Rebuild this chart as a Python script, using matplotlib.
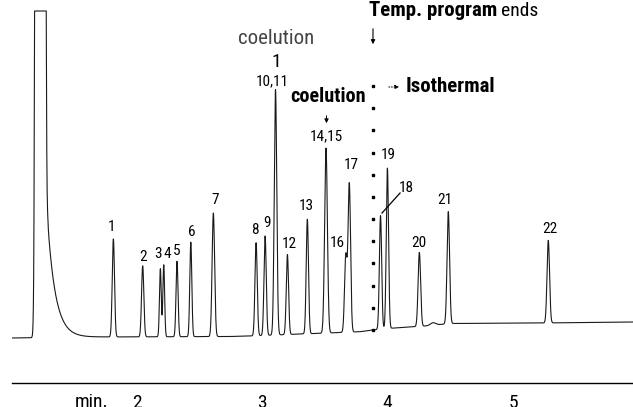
import numpy as np
import matplotlib
matplotlib.use("Agg")
import matplotlib.pyplot as plt
from matplotlib import font_manager

# look for a narrow / condensed sans face, the original is set in a condensed grotesque
fonts = font_manager.fontManager.ttflist
names = {f.name for f in fonts}
FAMILY, STRETCH, NARROW = "Liberation Sans", "normal", False
for cand in ["Liberation Sans Narrow", "Roboto Condensed", "Open Sans Condensed", "Noto Sans Condensed"]:
    if cand in names:
        FAMILY, NARROW = cand, True
        break
if not NARROW:
    cond = [f.name for f in fonts if f.stretch in ("condensed", "semi-condensed") and "Sans" in f.name]
    if cond:
        FAMILY, STRETCH, NARROW = sorted(cond)[0], "condensed", True
plt.rcParams["font.family"] = [FAMILY, "DejaVu Sans"]
plt.rcParams["font.stretch"] = STRETCH

# Peak table (time in min, height above baseline, width sigma in min)
peak_names = ["1", "2", "3", "4", "5", "6", "7", "8", "9", "10,11", "12", "13",
              "14,15", "16", "17", "18", "19", "20", "21", "22"]
peak_times = [1.811, 2.045, 2.186, 2.213, 2.319, 2.429, 2.609, 2.950, 3.022, 3.105,
              3.200, 3.359, 3.508, 3.666, 3.694, 3.943, 3.998, 4.253, 4.484, 5.282]
peak_heights = [98, 71, 68, 72, 75.5, 94.5, 123.5, 93, 99.5, 245.5,
                80, 114.5, 185, 76, 148, 113.5, 160.5, 74, 112, 82.5]
peak_widths = [0.009, 0.009, 0.007, 0.007, 0.008, 0.008, 0.010, 0.009, 0.009, 0.010,
               0.009, 0.009, 0.011, 0.010, 0.010, 0.009, 0.009, 0.010, 0.010, 0.010]

# label positions (time, signal)
label_times = [1.800, 2.048, 2.168, 2.239, 2.319, 2.439, 2.622, 2.942, 3.037, 3.077,
               3.213, 3.353, 3.512, 3.596, 3.708, 4.147, 4.003, 4.251, 4.458, 5.296]
label_levels = [111, 81, 84, 84, 87, 106, 138, 108, 115, 257,
                94, 132, 202, 95, 173, 150, 183, 95, 138, 109]

# solvent peak (off scale) and its tail
solvent_time = 1.2275
solvent_sigma = 0.0139
solvent_height = 8.0e4
tail_start = 1.2873
tail_height = 115
tail_tau = 0.064
clip_level = 327  # recorder full scale

# small unlabeled bump
minor_times = [4.362]
minor_heights = [2.5]
minor_widths = [0.02]

# baseline drift
base_times = [1.002, 1.705, 2.742, 2.902, 3.301, 3.461, 3.780, 3.875, 4.019, 4.298, 4.498, 5.216, 5.958]
base_levels = [0, 1, 1.5, 2, 4, 4.7, 6.3, 8, 9.7, 12, 14.5, 15, 16]

iso_time = 3.883  # end of temperature program
tick_vals = [2, 3, 4, 5]

# text sizes: condensed face can be set larger for the same width
if NARROW:
    fs = dict(peak=11, tick=14, note=15, bold_note=14.5, big=15, small=14, iso=15, one=14)
else:
    fs = dict(peak=10, tick=13, note=14, bold_note=12, big=13, small=10, iso=13, one=13)

# build trace
t = np.linspace(1.002, 5.958, 8000)
signal = np.interp(t, base_times, base_levels)
for tp, h, w in zip(peak_times + minor_times, peak_heights + minor_heights, peak_widths + minor_widths):
    signal += h * np.exp(-0.5 * ((t - tp) / w) ** 2)
signal += solvent_height * np.exp(-0.5 * ((t - solvent_time) / solvent_sigma) ** 2)
tail = tail_height * np.exp(-np.clip(t - tail_start, 0, None) / tail_tau)
signal += np.where(t > solvent_time, tail, 0)
signal = np.minimum(signal, clip_level)

fig = plt.figure(figsize=(6.33, 4.07), dpi=100)
ax = fig.add_axes([12 / 633, 24 / 407, 621 / 633, 383 / 407])
ax.plot(t, signal, color="#1a1a1a", lw=0.8)
ax.set_xlim(1.002, 5.958)
ax.set_ylim(-45, 338)

for side in ["top", "right", "left"]:
    ax.spines[side].set_visible(False)
ax.spines["bottom"].set_linewidth(1.0)
ax.set_yticks([])
ax.set_xticks(tick_vals)
ax.set_xticklabels([str(v) for v in tick_vals], fontsize=fs["tick"])
ax.tick_params(axis="x", length=0, pad=8)
ax.text(1.775, -64, "min.", fontsize=fs["tick"], ha="right", va="center")

# peak labels
for name, lt, lv in zip(peak_names, label_times, label_levels):
    ax.text(lt, lv, name, fontsize=fs["peak"], ha="center", va="center")

# leader line for peak 18
ax.plot([4.099, 3.955], [145, 125], color="black", lw=0.9)

# coelution notes
ax.text(3.109, 300, "coelution", fontsize=fs["note"], color="#444444", ha="center", va="center")
ax.text(3.109, 276, "1", fontsize=fs["one"], ha="center", va="center")
ax.text(3.524, 242, "coelution", fontsize=fs["bold_note"], fontweight="bold", ha="center", va="center")
ax.annotate("", xy=(3.512, 212), xytext=(3.512, 225),
            arrowprops=dict(arrowstyle="-|>", color="black", lw=0.7, mutation_scale=6))

# temperature program
ax.plot(np.full(12, iso_time), np.linspace(8, 252, 12), ls="none", marker="s",
        ms=1.6, color="black")
ax.text(3.852, 328, "Temp. program", fontsize=fs["big"], fontweight="bold", ha="left", va="center")
ax.text(4.905, 327, "ends", fontsize=fs["small"], ha="left", va="center")
ax.annotate("", xy=(iso_time, 291), xytext=(iso_time, 312),
            arrowprops=dict(arrowstyle="-|>", color="black", lw=0.8, mutation_scale=6))
ax.annotate("", xy=(4.115, 251), xytext=(3.987, 251),
            arrowprops=dict(arrowstyle="-|>", color="black", lw=0.7, ls=":", mutation_scale=6))
ax.text(4.147, 251, "Isothermal", fontsize=fs["iso"], fontweight="bold", ha="left", va="center")

fig.savefig("out.png", dpi=100)
